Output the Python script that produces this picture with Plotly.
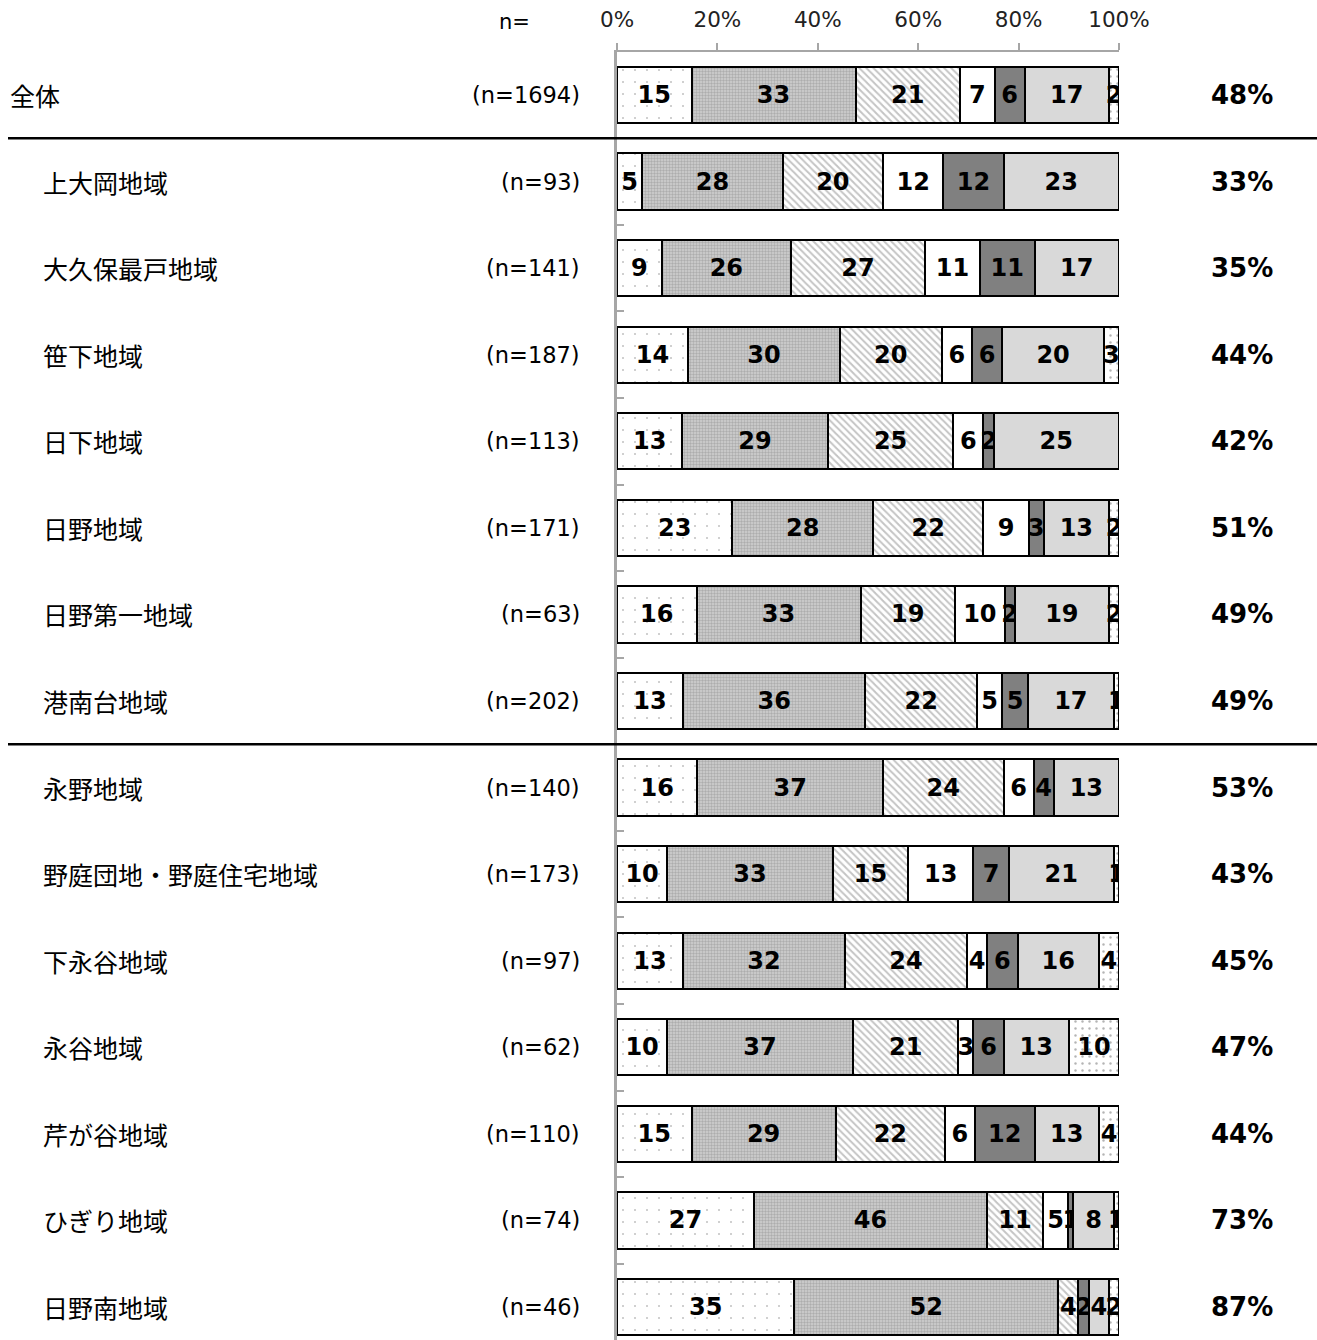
import plotly.graph_objects as go

# Regions (top to bottom) and sample sizes
regions = ["全体", "上大岡地域", "大久保最戸地域", "笹下地域", "日下地域", "日野地域",
           "日野第一地域", "港南台地域", "永野地域", "野庭団地・野庭住宅地域", "下永谷地域",
           "永谷地域", "芹が谷地域", "ひぎり地域", "日野南地域"]
n_labels = ["(n=1694)", "(n=93)", "(n=141)", "(n=187)", "(n=113)", "(n=171)", "(n=63)",
            "(n=202)", "(n=140)", "(n=173)", "(n=97)", "(n=62)", "(n=110)", "(n=74)", "(n=46)"]

# Response shares (%) per region, one list per answer category
s1 = [15, 5, 9, 14, 13, 23, 16, 13, 16, 10, 13, 10, 15, 27, 35]
s2 = [33, 28, 26, 30, 29, 28, 33, 36, 37, 33, 32, 37, 29, 46, 52]
s3 = [21, 20, 27, 20, 25, 22, 19, 22, 24, 15, 24, 21, 22, 11, 4]
s4 = [7, 12, 11, 6, 6, 9, 10, 5, 6, 13, 4, 3, 6, 5, 0]
s5 = [6, 12, 11, 6, 2, 3, 2, 5, 4, 7, 6, 6, 12, 1, 2]
s6 = [17, 23, 17, 20, 25, 13, 19, 17, 13, 21, 16, 13, 13, 8, 4]
s7 = [2, 0, 0, 3, 0, 2, 2, 1, 0, 1, 4, 10, 4, 1, 2]

# Share of the first two categories combined
top2 = [48, 33, 35, 44, 42, 51, 49, 49, 53, 43, 45, 47, 44, 73, 87]

W, H = 1317, 1340
L, R, T, B = 617, 198, 52, 0
PW, PH = W - L - R, H - T - B

def px(x):
    return (x - L) / PW

def py(y):
    return (H - B - y) / PH

rows = list(range(len(regions)))

styles = [
    dict(color="white", pattern=dict(shape=".", fgcolor="#8a8a8a", bgcolor="white", size=12, solidity=0.025)),
    dict(color="#bdbdbd", pattern=dict(shape=".", fgcolor="#8a8a8a", bgcolor="#d0d0d0", size=3, solidity=0.5)),
    dict(color="white", pattern=dict(shape="\\", fgcolor="#8a8a8a", bgcolor="white", size=5, solidity=0.4)),
    dict(color="white"),
    dict(color="#808080"),
    dict(color="#d9d9d9"),
    dict(color="white", pattern=dict(shape=".", fgcolor="#6a6a6a", bgcolor="white", size=7, solidity=0.1)),
]

fig = go.Figure()
for vals, st in zip([s1, s2, s3, s4, s5, s6, s7], styles):
    marker = dict(color=st["color"], line=dict(color="black", width=2))
    if "pattern" in st:
        marker["pattern"] = st["pattern"]
    fig.add_trace(go.Bar(
        x=vals, y=rows, orientation="h", marker=marker,
        text=[str(v) if v > 0 else "" for v in vals],
        textposition="inside", insidetextanchor="middle", textangle=0,
        constraintext="none",
        textfont=dict(family="DejaVu Sans", size=24, color="black", weight="bold"),
        showlegend=False, hoverinfo="skip",
    ))

annotations = []
for i, (name, nl, pct) in enumerate(zip(regions, n_labels, top2)):
    annotations.append(dict(
        x=px(8 if i == 0 else 41), y=i, xref="paper", yref="y", text=name,
        showarrow=False, xanchor="left", yanchor="middle",
        font=dict(family="Noto Sans CJK JP", size=25, color="black")))
    annotations.append(dict(
        x=px(582), y=i, xref="paper", yref="y", text=nl,
        showarrow=False, xanchor="right", yanchor="middle",
        font=dict(family="DejaVu Sans", size=22.5, color="black")))
    annotations.append(dict(
        x=px(1242), y=i, xref="paper", yref="y", text=f"<b>{pct}%</b>",
        showarrow=False, xanchor="center", yanchor="middle",
        font=dict(family="DejaVu Sans", size=26, color="black")))

annotations.append(dict(
    x=px(514), y=py(22), xref="paper", yref="paper", text="n=",
    showarrow=False, xanchor="center", yanchor="middle",
    font=dict(family="DejaVu Sans", size=21, color="black")))

# Group separators
shapes = []
for yb in [0.5, 7.5]:
    shapes.append(dict(type="line", xref="paper", yref="y", x0=px(8), x1=px(W), y0=yb, y1=yb,
                       line=dict(color="black", width=2.5)))

spacing = 86.57
top_off = (95 - T) / spacing
y_top = -top_off
y_bot = y_top + PH / spacing

fig.update_layout(
    width=W, height=H, margin=dict(l=L, r=R, t=T, b=B),
    paper_bgcolor="white", plot_bgcolor="white",
    barmode="stack", barnorm="percent", bargap=0.35,
    uniformtext=dict(minsize=24, mode="show"),
    annotations=annotations, shapes=shapes,
    xaxis=dict(side="top", range=[0, 100], tickvals=[0, 20, 40, 60, 80, 100],
               ticktext=["0%", "20%", "40%", "60%", "80%", "100%"],
               ticks="outside", ticklen=7, tickwidth=2, tickcolor="#a6a6a6",
               ticklabelstandoff=7,
               showline=True, linecolor="#a6a6a6", linewidth=2, showgrid=False, zeroline=False,
               tickfont=dict(family="DejaVu Sans", size=21.5, color="#222")),
    yaxis=dict(range=[y_bot, y_top], tickvals=[i + 0.5 for i in range(14)],
               showticklabels=False, ticks="inside", ticklen=7, tickwidth=2, tickcolor="#a6a6a6",
               showline=True, linecolor="#a6a6a6", linewidth=3, showgrid=False, zeroline=False),
)

fig.write_html("out.html")
